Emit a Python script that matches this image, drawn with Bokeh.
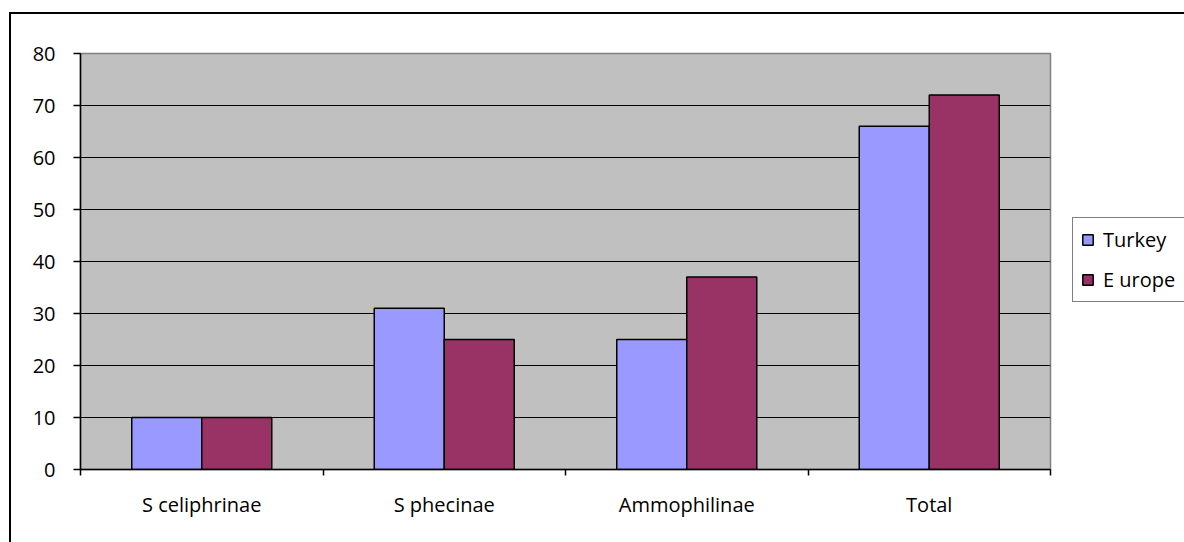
from bokeh.plotting import figure
from bokeh.models import Range1d, FixedTicker, Legend, LegendItem, ColumnDataSource
from bokeh.transform import dodge
from bokeh.embed import file_html
from bokeh.resources import INLINE

categories = ["S celiphrinae", "S phecinae", "Ammophilinae", "Total"]
turkey = [10, 31, 25, 66]
europe = [10, 25, 37, 72]
series_names = ["Turkey", "E urope"]
series_colors = ["#9999FF", "#993366"]
y_ticks = [0, 10, 20, 30, 40, 50, 60, 70, 80]

FONT = "Open Sans"
FS = "20px"

n = len(categories)
centers = [i + 0.5 for i in range(n)]
src = ColumnDataSource(dict(x=centers, turkey=turkey, europe=europe))

p = figure(frame_width=970, frame_height=416, output_backend="svg", toolbar_location=None,
           x_range=Range1d(0, n), y_range=Range1d(0, 80),
           min_border_left=80, min_border_right=0, min_border_top=53, min_border_bottom=73)

p.background_fill_color = "#C0C0C0"
p.border_fill_color = None
p.outline_line_color = "#808080"
p.outline_line_width = 1.5
p.styles = {
    "background-color": "white",
    "background-image": "linear-gradient(black, black), linear-gradient(black, black)",
    "background-size": "2px 100%, 100% 2px",
    "background-position": "9px 12px, 9px 12px",
    "background-repeat": "no-repeat",
}

bw = 0.2887
r1 = p.vbar(x=dodge("x", -bw / 2, range=p.x_range), top="turkey", width=bw, source=src,
            fill_color=series_colors[0], line_color="black", line_width=1.5)
r2 = p.vbar(x=dodge("x", bw / 2, range=p.x_range), top="europe", width=bw, source=src,
            fill_color=series_colors[1], line_color="black", line_width=1.5)

# grid
p.xgrid.visible = False
p.ygrid.grid_line_color = "black"
p.ygrid.grid_line_width = 1.2
p.ygrid.ticker = FixedTicker(ticks=y_ticks)

# y axis
p.yaxis.ticker = FixedTicker(ticks=y_ticks)
p.yaxis.axis_line_color = "black"
p.yaxis.axis_line_width = 1.5
p.yaxis.major_tick_in = 0
p.yaxis.major_tick_out = 7
p.yaxis.major_tick_line_width = 1.5
p.yaxis.minor_tick_line_color = None
p.yaxis.major_label_text_font = FONT
p.yaxis.major_label_text_font_size = FS
p.yaxis.major_label_text_color = "black"
p.yaxis.major_label_standoff = 18

# x axis: labels at centers, ticks at boundaries
p.xaxis.ticker = FixedTicker(ticks=centers, minor_ticks=list(range(n + 1)))
p.xaxis.major_label_overrides = {c: lab for c, lab in zip(centers, categories)}
p.xaxis.axis_line_color = "black"
p.xaxis.axis_line_width = 1.5
p.xaxis.major_tick_in = 0
p.xaxis.major_tick_out = 0
p.xaxis.minor_tick_in = 0
p.xaxis.minor_tick_out = 6
p.xaxis.minor_tick_line_color = "black"
p.xaxis.minor_tick_line_width = 1.5
p.xaxis.major_label_text_font = FONT
p.xaxis.major_label_text_font_size = FS
p.xaxis.major_label_text_color = "black"
p.xaxis.major_label_standoff = 15

legend = Legend(items=[LegendItem(label=series_names[0], renderers=[r1]),
                       LegendItem(label=series_names[1], renderers=[r2])],
                location=(22, 167))
legend.border_line_color = "black"
legend.border_line_width = 1.5
legend.background_fill_color = "white"
legend.background_fill_alpha = 1
legend.label_text_font = FONT
legend.label_text_font_size = FS
legend.label_text_color = "black"
legend.glyph_width = 13
legend.glyph_height = 13
legend.label_height = 20
legend.label_width = 80
legend.label_standoff = 9
legend.spacing = 13
legend.padding = 8
legend.margin = 0
p.add_layout(legend, "right")

open("out.html", "w").write(file_html(p, INLINE))
